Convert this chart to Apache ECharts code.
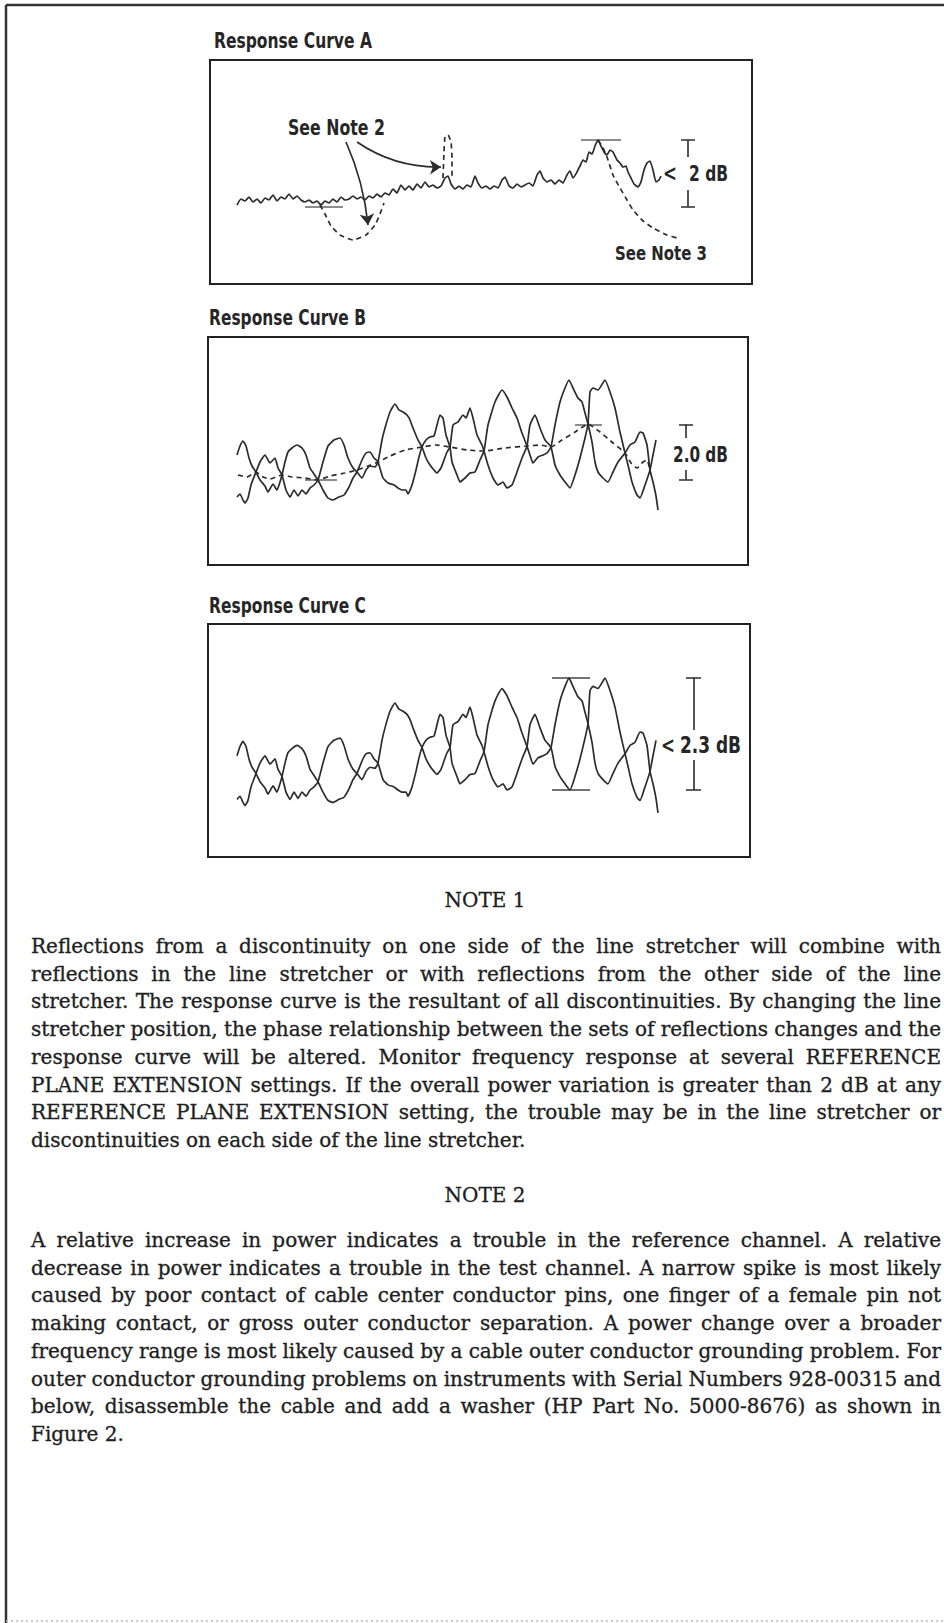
<!DOCTYPE html>
<html><head><meta charset="utf-8">
<style>html,body{margin:0;padding:0;background:#fff}#c{width:944px;height:1623px}</style>
<script src="https://cdn.jsdelivr.net/npm/echarts@6/dist/echarts.min.js"></script>
</head><body><div id="c"></div>
<script>
// ---------- DATA (x: sweep units, y: relative power units) ----------
const curveA = [[5.4,2.37],[6.2,2.55],[7.0,2.49],[7.8,2.61],[8.6,2.46],[9.4,2.55],[10.2,2.43],[11.0,2.58],[11.8,2.52],[12.6,2.67],[13.4,2.49],[14.2,2.61],[15.0,2.55],[15.8,2.70],[16.6,2.55],[17.4,2.64],[18.2,2.52],[19.0,2.46],[19.8,2.52],[20.6,2.43],[21.4,2.49],[22.2,2.37],[23.0,2.49],[23.8,2.43],[24.6,2.55],[25.4,2.46],[26.2,2.61],[27.0,2.52],[27.8,2.55],[28.6,2.64],[29.4,2.55],[30.2,2.61],[31.0,2.52],[31.8,2.64],[32.6,2.58],[33.4,2.70],[34.2,2.61],[35.0,2.73],[35.8,2.67],[36.6,2.85],[37.4,2.73],[38.2,2.97],[39.0,2.82],[39.8,2.94],[40.6,2.82],[41.4,3.00],[42.2,2.88],[43.0,3.06],[43.8,2.91],[44.6,2.97],[45.4,2.88],[46.2,2.94],[47.0,3.18],[47.6,3.24],[48.2,3.00],[49.0,2.85],[49.8,2.94],[50.6,2.85],[51.4,2.97],[52.2,2.91],[53.0,3.24],[53.6,3.03],[54.4,2.88],[55.2,2.94],[56.0,2.85],[56.8,2.94],[57.6,2.88],[58.4,3.12],[59.0,3.21],[59.8,2.94],[60.6,2.88],[61.4,3.00],[62.2,2.91],[63.0,2.97],[63.8,3.03],[64.6,2.94],[65.4,3.27],[66.0,3.39],[66.6,3.18],[67.4,3.06],[68.2,3.12],[69.0,3.00],[69.8,3.12],[70.6,3.03],[71.4,3.27],[72.0,3.39],[72.6,3.18],[73.4,3.36],[74.0,3.54],[74.6,3.72],[75.2,3.66],[75.8,3.96],[76.4,3.90],[77.0,4.14],[77.6,4.32],[78.2,4.14],[78.8,3.96],[79.4,3.87],[80.0,4.02],[80.6,3.96],[81.4,3.72],[82.0,3.63],[82.6,3.51],[83.2,3.54],[83.6,3.36],[84.2,3.18],[84.8,3.00],[85.6,2.91],[86.2,3.06],[86.8,3.42],[87.4,3.63],[88.0,3.69],[88.6,3.42],[89.2,3.06],[89.8,3.12],[90.2,3.24]];
const dipA = [[22.0,2.37],[23.0,2.10],[24.2,1.74],[26.0,1.47],[28.6,1.32],[31.2,1.47],[33.0,1.77],[34.0,2.10],[34.8,2.43]];
const spikeA = [[46.6,3.18],[46.8,3.96],[47.0,4.41],[47.6,4.47],[48.2,4.26],[48.4,3.78],[48.4,3.18]];
const decayA = [[77.6,4.32],[78.6,4.08],[79.4,3.81],[80.6,3.27],[82.0,2.88],[83.4,2.52],[84.6,2.22],[86.4,1.92],[88.6,1.68],[91.4,1.47],[93.4,1.38]];

const curveB1 = [[5.8,4.40],[6.4,4.76],[7.0,4.96],[7.6,4.76],[8.2,4.28],[8.8,3.96],[9.6,3.72],[10.4,3.40],[11.4,3.16],[12.0,2.92],[13.0,3.24],[13.8,3.00],[14.4,3.32],[14.8,3.60],[15.4,4.12],[16.0,4.52],[16.8,4.68],[17.8,4.80],[18.8,4.68],[19.6,4.40],[20.4,3.88],[21.2,3.64],[22.0,3.40],[23.0,3.00],[24.0,2.68],[25.0,2.60],[26.2,2.72],[27.2,2.80],[28.2,3.12],[29.0,3.48],[29.8,3.72],[30.8,4.20],[31.6,4.48],[32.4,4.52],[33.2,4.28],[34.0,4.12],[35.0,3.48],[36.0,3.28],[37.2,3.20],[38.0,3.08],[38.8,3.00],[39.6,3.00],[40.0,2.84],[40.8,3.20],[41.6,3.80],[42.2,4.32],[42.8,4.72],[43.6,5.00],[44.4,5.12],[45.2,5.16],[45.8,5.60],[46.4,6.00],[47.0,5.88],[47.6,5.20],[48.4,4.72],[48.8,4.12],[49.8,3.60],[50.4,3.32],[51.4,3.48],[52.4,3.68],[53.4,3.72],[54.4,4.20],[55.2,4.56],[56.0,5.60],[57.4,6.52],[58.8,7.00],[59.8,6.72],[60.8,6.28],[61.8,5.88],[62.8,5.28],[63.8,4.76],[64.4,4.40],[65.0,4.08],[66.0,4.32],[67.0,4.40],[67.8,4.48],[68.6,4.72],[69.4,5.60],[70.4,6.52],[71.4,7.08],[72.2,7.40],[73.0,7.08],[74.0,6.68],[74.8,6.52],[75.4,6.08],[76.0,5.64],[76.8,4.92],[77.4,4.12],[78.0,3.72],[79.0,3.48],[80.0,3.32],[81.0,3.72],[82.0,4.12],[83.4,4.48],[84.4,4.80],[85.4,4.92],[86.4,5.32],[87.0,5.28],[87.8,4.80],[88.4,3.80],[89.0,3.32],[89.6,2.76],[90.0,2.20]];
const curveB2 = [[5.8,2.72],[6.4,2.84],[7.0,2.60],[7.4,2.48],[8.0,2.68],[8.6,3.20],[9.6,3.72],[10.4,4.12],[11.4,4.40],[12.4,4.08],[13.4,4.28],[14.0,3.88],[14.8,3.60],[15.6,3.00],[16.4,2.72],[17.2,3.00],[18.0,2.76],[18.8,3.00],[19.6,2.84],[20.4,3.08],[21.2,3.20],[22.0,3.40],[23.0,4.12],[24.0,4.76],[25.2,5.00],[26.4,5.08],[27.2,4.80],[28.0,4.28],[29.0,3.88],[29.8,3.72],[30.8,3.48],[31.6,3.80],[32.4,3.96],[33.4,3.92],[34.0,4.12],[34.8,5.00],[35.4,5.48],[36.4,6.12],[37.4,6.44],[38.2,6.20],[39.0,6.12],[39.8,6.00],[40.4,5.80],[41.0,5.48],[42.0,5.00],[42.8,4.72],[43.6,4.28],[44.4,4.00],[45.2,3.80],[45.8,3.68],[46.6,3.88],[47.2,4.20],[47.8,4.52],[48.4,4.72],[49.0,5.60],[50.0,5.72],[51.0,6.00],[51.6,5.88],[52.4,6.28],[53.0,5.88],[53.8,5.20],[54.8,4.80],[55.2,4.56],[56.0,4.00],[57.0,3.48],[58.0,3.20],[59.0,3.32],[59.8,3.08],[60.8,3.20],[61.8,3.72],[62.8,4.28],[63.8,4.76],[64.4,5.60],[65.4,6.00],[66.4,5.48],[67.4,5.00],[68.6,4.72],[69.4,4.00],[70.4,3.60],[71.4,3.32],[72.4,3.08],[73.4,3.60],[74.4,4.28],[75.4,5.08],[76.0,5.64],[76.4,6.92],[77.0,7.08],[78.0,7.00],[79.4,7.40],[80.4,6.92],[81.4,6.28],[82.4,5.32],[83.4,4.48],[84.0,4.00],[84.8,3.32],[85.8,2.80],[86.4,2.68],[87.4,3.20],[88.4,3.80],[89.0,4.40],[89.6,5.00]];
const averageB = [[6.0,3.60],[7.8,3.52],[9.6,3.72],[11.0,3.52],[12.4,3.44],[14.8,3.60],[16.8,3.52],[19.4,3.48],[22.0,3.40],[24.4,3.56],[27.4,3.68],[29.8,3.80],[32.0,3.96],[34.0,4.12],[36.4,4.36],[39.4,4.60],[42.8,4.72],[45.6,4.80],[48.4,4.72],[51.8,4.60],[55.2,4.56],[59.4,4.68],[63.8,4.76],[66.4,4.80],[68.6,4.72],[70.8,5.00],[73.4,5.32],[76.0,5.64],[78.4,5.32],[81.0,4.88],[83.4,4.48],[84.6,4.08],[85.8,3.88],[87.0,4.12],[87.8,4.20],[88.4,3.80]];

// annotation geometry (data units)
const marksA = [[[74.2,4.32],[82.2,4.32]],[[19.0,2.31],[26.6,2.31]]];
const barA = [[[94.2,4.32],[97.0,4.32]],[[95.6,4.32],[95.6,3.81]],[[95.6,2.82],[95.6,2.31]],[[94.2,2.31],[97.0,2.31]]];
const arrowsA = [[[27.2,4.26],[31.6,1.77]],[[29.4,4.26],[46.2,3.51]]];
const arrowBend = [0.08, -0.16];
const marksB = [[[19.4,3.42],[25.8,3.42]],[[73.4,5.62],[78.8,5.62]]];
const barB = [[[94.2,5.62],[97.0,5.62]],[[95.6,5.62],[95.6,5.08]],[[95.6,3.80],[95.6,3.42]],[[94.2,3.42],[97.0,3.42]]];
const marksC = [[[68.8,7.41],[76.4,7.41]],[[68.8,3.08],[76.4,3.08]]];
const barC = [[[95.6,7.41],[98.6,7.41]],[[97.2,7.41],[97.2,5.40]],[[97.2,4.24],[97.2,3.08]],[[95.6,3.08],[98.6,3.08]]];

// ---------- TEXT ----------
const panelTitles = ['Response Curve A','Response Curve B','Response Curve C'];
const note1Lines = [
'Reflections from a discontinuity on one side of the line stretcher will combine with',
'reflections in the line stretcher or with reflections from the other side of the line',
'stretcher. The response curve is the resultant of all discontinuities. By changing the line',
'stretcher position, the phase relationship between the sets of reflections changes and the',
'response curve will be altered. Monitor frequency response at several REFERENCE',
'PLANE EXTENSION settings. If the overall power variation is greater than 2 dB at any',
'REFERENCE PLANE EXTENSION setting, the trouble may be in the line stretcher or',
'discontinuities on each side of the line stretcher.'];
const note2Lines = [
'A relative increase in power indicates a trouble in the reference channel. A relative',
'decrease in power indicates a trouble in the test channel. A narrow spike is most likely',
'caused by poor contact of cable center conductor pins, one finger of a female pin not',
'making contact, or gross outer conductor separation. A power change over a broader',
'frequency range is most likely caused by a cable outer conductor grounding problem. For',
'outer conductor grounding problems on instruments with Serial Numbers 928-00315 and',
'below, disassemble the cable and add a washer (HP Part No. 5000-8676) as shown in',
'Figure 2.'];

// ---------- LAYOUT HELPERS ----------
const INK = '#1f1f1f';
const SANS = "'Liberation Sans Narrow','DejaVu Sans Condensed','Arial Narrow',sans-serif";
const SERIF = "'DejaVu Serif','Liberation Serif',serif";
const ctx = document.createElement('canvas').getContext('2d');
function measure(text, font){ ctx.font = font; return ctx.measureText(text).width; }
function fit(text, family, weight, w){ return 100 * w / measure(text, weight + ' 100px ' + family); }
function label(text, x, y, w){
  const fs = fit(text, SANS, 'bold', w);
  return {type:'text', x:x, y:y, z:100, scaleY:1.2, style:{text:text, font:'bold '+fs.toFixed(2)+'px '+SANS, fill:'#262626', textAlign:'left', textVerticalAlign:'middle', align:'left', verticalAlign:'middle'}};
}
function wordEl(w, x, y, font){
  return {type:'text', x:x, y:y, z:100, style:{text:w, font:font, fill:INK, stroke:INK, lineWidth:0.35, textAlign:'left', textVerticalAlign:'middle', align:'left', verticalAlign:'middle'}};
}
function paragraph(lines, top, lh, left, right, fs){
  const font = fs + 'px ' + SERIF;
  const els = [];
  lines.forEach((ln, i) => {
    const words = ln.split(' ');
    const ws = words.map(w => measure(w, font));
    const tot = ws.reduce((a,b)=>a+b,0);
    const last = i === lines.length - 1;
    const gap = last ? measure(' ', font) : (right - left - tot) / (words.length - 1);
    let x = left;
    words.forEach((w, j) => { els.push(wordEl(w, x, top + i*lh, font)); x += ws[j] + gap; });
  });
  return els;
}
function heading(text, cx, y, fs){
  return {type:'text', x:cx, y:y, z:100, style:{text:text, font:fs+'px '+SERIF, fill:INK, stroke:INK, lineWidth:0.3, textAlign:'center', textVerticalAlign:'middle', align:'center', verticalAlign:'middle'}};
}

// ---------- CHART ----------
const chart = echarts.init(document.getElementById('c'), null, {renderer:'svg', width:944, height:1623});
const gridStyle = {show:true, borderColor:'#222', borderWidth:2, backgroundColor:'rgba(0,0,0,0)'};
function lineSeries(data, gi, dashed){
  return {type:'line', data:data, xAxisIndex:gi, yAxisIndex:gi, showSymbol:false, symbol:'none', smooth:0.15, animation:false, silent:true,
    lineStyle:{color:'#2c2c2c', width: dashed ? 1.7 : 1.7, type: dashed ? [5,4] : 'solid'}};
}
function segSeries(segs, gi, color, width, extra){
  return Object.assign({type:'lines', coordinateSystem:'cartesian2d', xAxisIndex:gi, yAxisIndex:gi, animation:false, silent:true,
    data:segs.map(c=>({coords:c})), lineStyle:{color:color, width:width, opacity:1, curveness:0}}, extra||{});
}

const fsBody = 20;
const graphic = [
  {type:'line', z:50, shape:{x1:6, y1:5, x2:944, y2:5}, style:{stroke:'#333', lineWidth:2.5}},
  {type:'line', z:50, shape:{x1:6, y1:5, x2:6, y2:1623}, style:{stroke:'#333', lineWidth:2.5}},
  {type:'line', z:50, shape:{x1:6, y1:1621, x2:944, y2:1621}, style:{stroke:'#bbb', lineWidth:1.5, lineDash:[2,3]}},
  label(panelTitles[0], 214, 40, 158),
  label(panelTitles[1], 209, 317, 157),
  label(panelTitles[2], 209, 605, 157),
  label('See Note 2', 288, 128, 97),
  label('See Note 3', 615, 253, 92),
  label('<', 663, 173, 14),
  label('2 dB', 689, 173, 39),
  label('2.0 dB', 673, 455, 55),
  label('<', 661, 745, 14),
  label('2.3 dB', 680, 745, 61),
  heading('NOTE 1', 485, 900, 20),
  heading('NOTE 2', 485, 1195, 20)
].concat(paragraph(note1Lines, 946, 27.7, 31, 941, fsBody))
 .concat(paragraph(note2Lines, 1240, 27.7, 31, 941, fsBody));

chart.setOption({
  backgroundColor:'#ffffff',
  animation:false,
  grid:[
    Object.assign({left:210, top:60, width:542, height:224}, gridStyle),
    Object.assign({left:208, top:337, width:540, height:228}, gridStyle),
    Object.assign({left:208, top:624, width:542, height:233}, gridStyle)
  ],
  xAxis:[
    {gridIndex:0, type:'value', min:0, max:108.4, show:false},
    {gridIndex:1, type:'value', min:0, max:108, show:false},
    {gridIndex:2, type:'value', min:0, max:108.4, show:false}
  ],
  yAxis:[
    {gridIndex:0, type:'value', min:0, max:6.72, show:false},
    {gridIndex:1, type:'value', min:0, max:9.12, show:false},
    {gridIndex:2, type:'value', min:0.494, max:9.49, show:false}
  ],
  series:[
    lineSeries(curveA, 0, false),
    lineSeries(dipA, 0, true),
    lineSeries(spikeA, 0, true),
    lineSeries(decayA, 0, true),
    segSeries(marksA, 0, '#666', 1.6),
    segSeries(barA, 0, '#2c2c2c', 1.6),
    {type:'lines', coordinateSystem:'cartesian2d', xAxisIndex:0, yAxisIndex:0, animation:false, silent:true,
     symbol:['none','arrow'], symbolSize:11,
     data: arrowsA.map((c, i) => ({coords:c, lineStyle:{curveness:arrowBend[i]}})),
     lineStyle:{color:'#2c2c2c', width:1.7, opacity:1}},
    lineSeries(curveB1, 1, false),
    lineSeries(curveB2, 1, false),
    lineSeries(averageB, 1, true),
    segSeries(marksB, 1, '#666', 1.6),
    segSeries(barB, 1, '#2c2c2c', 1.6),
    lineSeries(curveB1, 2, false),
    lineSeries(curveB2, 2, false),
    segSeries(marksC, 2, '#444', 1.6),
    segSeries(barC, 2, '#2c2c2c', 1.6)
  ],
  graphic: graphic
});
</script></body></html>
